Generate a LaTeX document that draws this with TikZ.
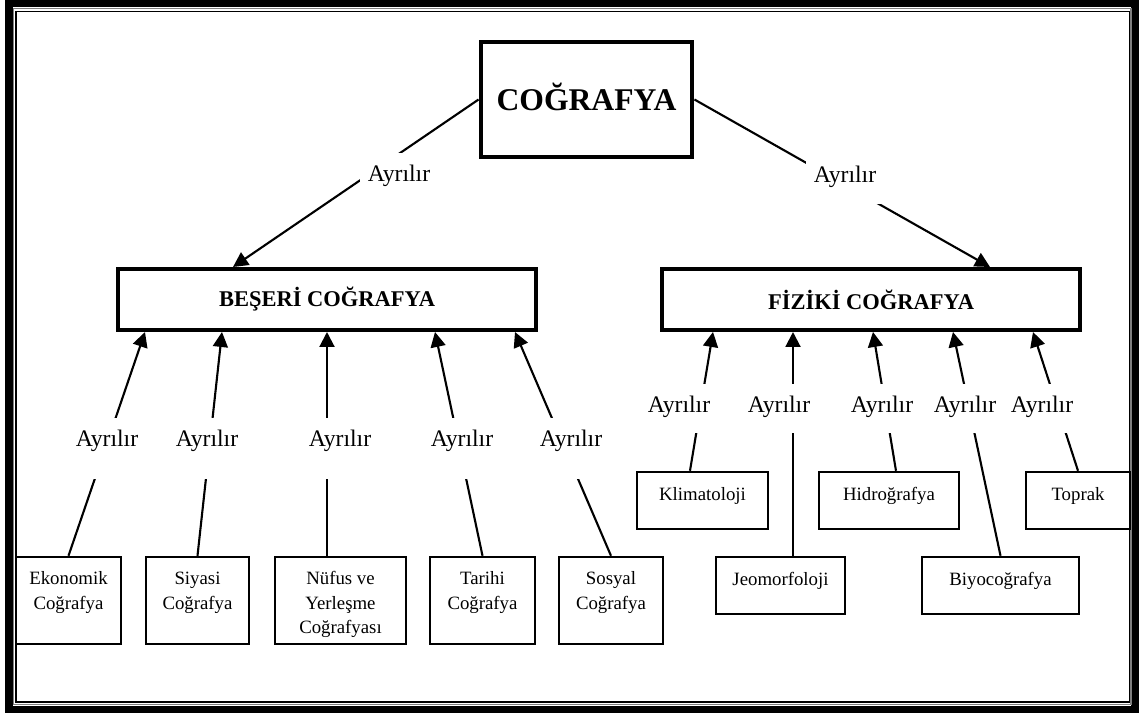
\documentclass[tikz,border=0pt]{standalone}
\usepackage{fontspec}
\setmainfont{Liberation Serif}
\usetikzlibrary{arrows.meta}

\begin{document}
\begin{tikzpicture}[x=0.02cm, y=-0.02cm,
  head/.style={draw, line width=2.8pt, font=\fontsize{18}{21}\selectfont\bfseries, minimum width=4.22cm, minimum height=2.3cm, text height=17pt, text depth=5pt},
  branch/.style={draw, line width=2.3pt, font=\fontsize{12.8}{15}\selectfont\bfseries, minimum width=8.36cm, minimum height=1.22cm},
  leaf/.style={draw, line width=1.4pt, font=\fontsize{10.7}{14.2}\selectfont, align=center, inner ysep=0pt, minimum height=1.74cm, text height=29.5pt, text depth=19.8pt},
  twig/.style={draw, line width=1.4pt, font=\fontsize{10.7}{14.2}\selectfont, minimum height=1.14cm, text height=8pt, text depth=8pt},
  lbl/.style={fill=white, anchor=base, inner xsep=1pt, inner ysep=0pt, text height=16pt, text depth=12pt, font=\fontsize{13.5}{16}\selectfont},
  arr/.style={-{Triangle[length=8.5pt, width=8.5pt]}, line width=1.2pt}
]
\useasboundingbox (0,0) rectangle (1140,713);
% frame
\draw[line width=4pt] (9,3.5) rectangle (1135,709.5);
\draw[line width=0.6pt, gray] (13.5,8.5) rectangle (1131,704.5);
\draw[line width=0.8pt] (16,11.5) rectangle (1129.5,702);

\node[head] (geo) at (586.5,99.5) {COĞRAFYA};
\node[branch] (beseri) at (327,299.5) {BEŞERİ COĞRAFYA};
\node[branch] (fiziki) at (871,299.5) {FİZİKİ COĞRAFYA};
% beseri
\node[leaf, minimum width=2.1cm] (ekon) at (68.5,600.5) {Ekonomik\\Coğrafya};
\node[leaf, minimum width=2.06cm] (siyasi) at (197.5,600.5) {Siyasi\\Coğrafya};
\node[leaf, minimum width=2.62cm, text height=43.7pt, text depth=5.6pt] (nufus) at (340.5,600.5) {Nüfus ve\\Yerleşme\\Coğrafyası};
\node[leaf, minimum width=2.1cm] (tarihi) at (482.5,600.5) {Tarihi\\Coğrafya};
\node[leaf, minimum width=2.08cm] (sosyal) at (611,600.5) {Sosyal\\Coğrafya};
% fiziki
\node[twig, minimum width=2.62cm] (klima) at (702.5,500.5) {Klimatoloji};
\node[twig, minimum width=2.8cm] (hidro) at (889,500.5) {Hidroğrafya};
\node[twig, minimum width=2.08cm] (toprak) at (1078,500.5) {Toprak};
\node[twig, minimum width=2.58cm] (jeo) at (780.5,585.5) {Jeomorfoloji};
\node[twig, minimum width=3.14cm] (biyo) at (1000.5,585.5) {Biyocoğrafya};

\draw[arr] (geo.west) -- (beseri.north -| 233,0);
\draw[arr] (geo.east) -- (fiziki.north -| 990,0);
\draw[arr] (ekon.north) -- (beseri.south -| 145,0);
\draw[arr] (siyasi.north) -- (beseri.south -| 222,0);
\draw[arr] (nufus.north -| 327,0) -- (beseri.south -| 327,0);
\draw[arr] (tarihi.north) -- (beseri.south -| 435,0);
\draw[arr] (sosyal.north) -- (beseri.south -| 515,0);
\draw[arr] (klima.north -| 690,0) -- (fiziki.south -| 713,0);
\draw[arr] (jeo.north -| 793,0) -- (fiziki.south -| 793,0);
\draw[arr] (hidro.north -| 896,0) -- (fiziki.south -| 873,0);
\draw[arr] (biyo.north) -- (fiziki.south -| 953,0);
\draw[arr] (toprak.north) -- (fiziki.south -| 1033,0);

% labels
\node[lbl, inner xsep=4.5pt] (ayl) at (399,181) {Ayrılır};
\node[lbl, inner xsep=4.5pt] (ayr) at (845,183) {Ayrılır};
\foreach \x [count=\i] in {107,207,340,462,571}
  \node[lbl, text depth=19pt] (ayb\i) at (\x,446) {Ayrılır};
\foreach \x [count=\i] in {679,779,882,965,1042}
  \node[lbl] (ayf\i) at (\x,412) {Ayrılır};
\end{tikzpicture}
\end{document}
